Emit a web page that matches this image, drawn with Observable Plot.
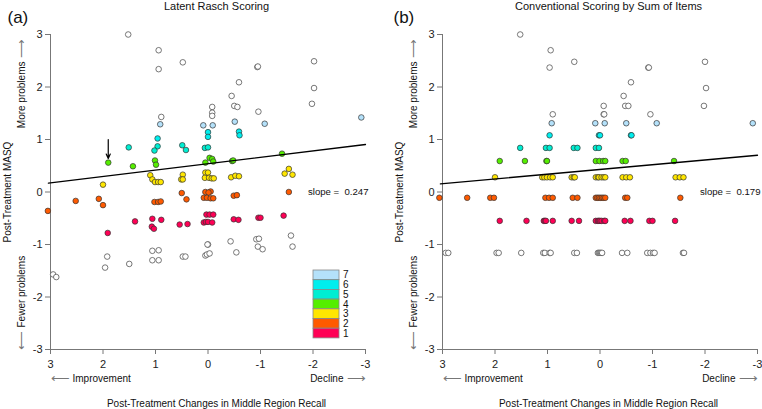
<!DOCTYPE html>
<html><head><meta charset="utf-8">
<script src="https://cdn.jsdelivr.net/npm/d3@7"></script>
<script src="https://cdn.jsdelivr.net/npm/@observablehq/plot@0.6"></script>
<style>
body{margin:0;background:#fff;}
#wrap{position:relative;width:762px;height:409px;overflow:hidden;font-family:"Liberation Sans",Arial,sans-serif;}
#wrap > svg{position:absolute;top:0;}
</style></head><body><div id="wrap"></div>
<script>
// ---- ticks & labels ----
const xTicks = [3, 2, 1, 0, -1, -2, -3];
const yTicks = [-3, -2, -1, 0, 1, 2, 3];
const titles = ["Latent Rasch Scoring", "Conventional Scoring by Sum of Items"];
const tags = ["(a)", "(b)"];
const slopes = ["slope =  0.247", "slope =  0.179"];
const xTitle = "Post-Treatment Changes in Middle Region Recall";
const yTitle = "Post-Treatment MASQ";
const levels = [1, 2, 3, 4, 5, 6, 7];
const levelColors = ["#FF0055", "#FF5A00", "#FFE600", "#55EE00", "#00EED2", "#00EEEE", "#B4E1FA"];

// ---- panel (a): Latent Rasch scoring, [change in recall, post MASQ] ----
const raschOpen = [[1.52,3.0],[0.94,2.70],[0.94,2.34],[0.48,2.47],[-0.94,2.38],[-0.95,2.39],[-0.59,2.09],[-0.45,1.83],[-0.50,1.64],[-0.56,1.62],[-0.96,1.53],[-0.08,1.62],[-0.08,1.51],[-0.08,1.45],[0.89,1.43],[-2.02,2.49],[-2.02,1.98],[-1.98,1.68],
  [1.92,-1.23],[1.96,-1.44],[1.50,-1.37],[2.95,-1.57],[2.89,-1.62],[1.06,-1.12],[0.94,-1.11],[1.06,-1.30],[0.94,-1.30],[0.48,-1.23],[0.43,-1.23],[0.0,-1.0],[0.01,-1.0],[0.05,-1.21],[0.02,-1.19],[-0.03,-1.17],[-0.43,-0.94],[-0.54,-1.15],[-0.92,-0.90],[-0.97,-0.89],[-0.95,-1.04],[-1.04,-1.09],[-1.58,-0.83],[-1.61,-1.04]];
const rasch7 = [[0.91,1.29],[0.09,1.27],[-0.09,1.27],[-0.51,1.34],[-1.08,1.30],[-2.92,1.42]];
const rasch6 = [[0.0,1.14],[0.0,1.05],[-0.59,1.15],[-0.60,1.08],[0.96,1.02]];
const rasch5 = [[1.51,0.85],[0.96,0.87],[1.02,0.79],[0.49,0.89],[0.42,0.80],[0.06,0.84],[0.0,0.85]];
const rasch4 = [[1.90,0.56],[1.43,0.49],[1.01,0.60],[0.99,0.52],[-0.03,0.65],[-0.08,0.63],[0.05,0.56],[-0.10,0.58],[-0.46,0.59],[-0.48,0.60],[-1.41,0.73]];
const rasch3 = [[2.0,0.14],[1.10,0.32],[1.06,0.24],[1.01,0.19],[0.95,0.19],[0.90,0.19],[0.48,0.33],[0.51,0.24],[0.48,0.24],[0.05,0.37],[0.0,0.37],[0.06,0.27],[-0.02,0.27],[-0.07,0.26],[-0.11,0.26],[-0.44,0.28],[-0.52,0.31],[-0.59,0.30],[-1.46,0.35],[-1.54,0.44],[-1.61,0.33]];
const rasch2 = [[3.05,-0.36],[2.52,-0.17],[2.08,-0.13],[2.0,-0.25],[0.50,-0.02],[0.41,-0.14],[1.02,-0.19],[0.95,-0.19],[0.90,-0.18],[0.05,0.0],[-0.05,0.01],[-0.01,-0.01],[0.08,-0.11],[0.02,-0.11],[-0.05,-0.12],[-0.10,-0.12],[-0.49,-0.07],[-0.55,-0.06],[-1.54,0.0]];
const rasch1 = [[1.39,-0.56],[1.91,-0.78],[1.06,-0.51],[0.89,-0.53],[1.07,-0.66],[1.03,-0.70],[0.54,-0.62],[0.39,-0.61],[0.03,-0.43],[-0.03,-0.43],[-0.10,-0.43],[0.08,-0.58],[0.04,-0.57],[0.0,-0.57],[-0.08,-0.58],[-0.49,-0.52],[-0.58,-0.53],[-0.96,-0.49],[-1.0,-0.49],[-1.44,-0.45]];
const raschFitX = [3.04, -3.0];
const raschFitY = [0.17, 0.905];

// ---- panel (b): conventional sum scoring ----
const sumOpen = [[1.52,3.0],[0.94,2.70],[0.96,2.37],[0.49,2.48],[-0.92,2.37],[-0.93,2.37],[-0.59,2.09],[-0.45,1.83],[-0.48,1.64],[-0.54,1.64],[-0.96,1.48],[-0.07,1.64],[-0.07,1.48],[-0.08,1.48],[0.90,1.48],[-2.0,2.48],[-2.02,1.98],[-1.98,1.64],
  [2.94,-1.16],[2.89,-1.16],[1.97,-1.16],[1.93,-1.16],[1.50,-1.16],[1.08,-1.16],[1.05,-1.16],[0.96,-1.16],[0.94,-1.16],[0.49,-1.16],[0.44,-1.16],[0.04,-1.16],[0.02,-1.16],[0.0,-1.16],[-0.02,-1.16],[-0.04,-1.16],[-0.42,-1.16],[-0.52,-1.16],[-0.90,-1.16],[-0.96,-1.16],[-1.01,-1.16],[-1.04,-1.16],[-1.58,-1.16],[-1.60,-1.16]];
const sum7 = [[0.92,1.31],[0.09,1.31],[-0.09,1.31],[-0.50,1.31],[-1.08,1.31],[-2.91,1.31]];
const sum6 = [[0.96,1.08],[0.02,1.08],[0.0,1.08],[-0.59,1.08],[-0.60,1.08]];
const sum5 = [[1.52,0.84],[1.03,0.84],[0.96,0.84],[0.50,0.84],[0.43,0.84],[0.08,0.84],[0.02,0.84]];
const sum4 = [[1.91,0.59],[1.43,0.59],[1.02,0.59],[1.01,0.59],[0.08,0.59],[0.01,0.59],[-0.06,0.59],[-0.10,0.59],[-0.43,0.59],[-0.49,0.59],[-1.41,0.59]];
const sum3 = [[2.0,0.28],[1.10,0.28],[1.06,0.28],[1.01,0.28],[0.95,0.28],[0.90,0.28],[0.54,0.28],[0.50,0.28],[0.48,0.28],[0.08,0.28],[0.04,0.28],[0.02,0.28],[-0.03,0.28],[-0.07,0.28],[-0.10,0.28],[-0.43,0.28],[-0.50,0.28],[-0.57,0.28],[-1.44,0.28],[-1.52,0.28],[-1.59,0.28]];
const sum2 = [[3.06,-0.11],[2.53,-0.11],[2.09,-0.11],[2.02,-0.11],[1.04,-0.11],[0.97,-0.11],[0.90,-0.11],[0.52,-0.11],[0.43,-0.11],[0.08,-0.11],[0.05,-0.11],[0.02,-0.11],[-0.01,-0.11],[-0.04,-0.11],[-0.07,-0.11],[-0.10,-0.11],[-0.48,-0.11],[-0.52,-0.11],[-1.53,-0.11]];
const sum1 = [[1.91,-0.55],[1.40,-0.55],[1.07,-0.55],[1.05,-0.55],[1.03,-0.55],[0.90,-0.55],[0.54,-0.55],[0.40,-0.55],[0.08,-0.55],[0.04,-0.55],[0.02,-0.55],[0.0,-0.55],[-0.03,-0.55],[-0.08,-0.55],[-0.10,-0.55],[-0.47,-0.55],[-0.58,-0.55],[-0.94,-0.55],[-1.0,-0.55],[-1.43,-0.55]];
const sumFitX = [3.04, -3.0];
const sumFitY = [0.155, 0.70];

// ---- annotation arrow in panel (a) ----
const noteArrowX = [1.90];
const noteArrowY1 = [1.00];
const noteArrowY2 = [0.64];

const FONT = '"Liberation Sans", Arial, Helvetica, sans-serif';

function label(txt, o) {
  return Plot.text([txt], Object.assign({text: d => d, fill: "#111", lineAnchor: "middle", textAnchor: "middle"}, o));
}

function panel(i, groups, fitX, fitY, opts) {
  const pts = [];
  groups.forEach((g, lvl) => g.forEach(([x, y]) => pts.push({x, y, lvl})));
  const open = pts.filter(d => d.lvl === 0);
  const filled = pts.filter(d => d.lvl > 0);
  const fit = fitX.map((x, k) => ({x, y: fitY[k]}));
  const marks = [
    Plot.frame({anchor: "left", stroke: "#777"}),
    Plot.frame({anchor: "bottom", stroke: "#777"}),
    Plot.axisY({ticks: yTicks, tickSize: 5, tickPadding: 3, tickFormat: d => String(d), stroke: "#777", fill: "#222", label: null, fontSize: 11}),
    Plot.axisX({ticks: xTicks, tickSize: 5, tickPadding: 6, tickFormat: d => String(d), stroke: "#777", fill: "#222", label: null, fontSize: 11}),
    Plot.dot(open, {x: "x", y: "y", r: 2.8, fill: "white", stroke: "#555", strokeWidth: 0.8}),
    Plot.dot(filled, {x: "x", y: "y", r: 2.8, fill: "lvl", stroke: "#333", strokeWidth: 0.7}),
    Plot.line(fit, {x: "x", y: "y", stroke: "black", strokeWidth: 1.3}),
    label(tags[i], {frameAnchor: "top-left", dx: opts.tagDx, dy: -17, textAnchor: "start", fontSize: 17}),
    label(titles[i], {frameAnchor: "top", dx: 8.5, dy: -28, fontSize: 11}),
    label(xTitle, {frameAnchor: "bottom", dx: 8.5, dy: 54, fontSize: 10}),
    label(yTitle, {frameAnchor: "left", dx: -43, rotate: -90, fontSize: 10}),
    label("Improvement", {frameAnchor: "bottom-left", dx: 22, dy: 29, textAnchor: "start", fontSize: 10}),
    label("\u27F5", {frameAnchor: "bottom-left", dx: 0, dy: 29, textAnchor: "start", fontSize: 13, fill: "#777"}),
    label("Decline", {frameAnchor: "bottom-right", dx: -22, dy: 29, textAnchor: "end", fontSize: 10}),
    label("\u27F6", {frameAnchor: "bottom-right", dx: 0, dy: 29, textAnchor: "end", fontSize: 13, fill: "#777"}),
    label("More problems", {frameAnchor: "top-left", dx: -29, dy: 27, rotate: -90, textAnchor: "end", fontSize: 10}),
    label("\u27F6", {frameAnchor: "top-left", dx: -29, dy: 4, rotate: -90, textAnchor: "end", fontSize: 13, fill: "#777"}),
    label("Fewer problems", {frameAnchor: "bottom-left", dx: -29, dy: -22, rotate: -90, textAnchor: "start", fontSize: 10}),
    label("\u27F5", {frameAnchor: "bottom-left", dx: -29, dy: 0, rotate: -90, textAnchor: "start", fontSize: 13, fill: "#777"}),
    label(slopes[i], {frameAnchor: "right", dx: 3, textAnchor: "end", fontSize: 9.6})
  ];
  if (opts.note) {
    const note = noteArrowX.map((x, k) => ({x, y1: noteArrowY1[k], y2: noteArrowY2[k]}));
    marks.push(Plot.arrow(note, {x1: "x", x2: "x", y1: "y1", y2: "y2", stroke: "black", strokeWidth: 1.2, headLength: 6, headAngle: 50}));
  }
  const svg = Plot.plot({
    width: opts.width, height: 409,
    marginLeft: 50, marginRight: opts.marginRight, marginTop: 34, marginBottom: 60,
    x: {domain: [3, -3]},
    y: {domain: [-3, 3]},
    color: {type: "ordinal", domain: levels, range: levelColors},
    style: {fontFamily: FONT, fontSize: "11px", color: "#222", background: "white", overflow: "visible"},
    marks
  });
  svg.style.left = opts.left + "px";
  return svg;
}

const wrap = document.getElementById("wrap");
wrap.appendChild(panel(0, [raschOpen, rasch1, rasch2, rasch3, rasch4, rasch5, rasch6, rasch7], raschFitX, raschFitY, {width: 392, marginRight: 27, left: 0, tagDx: -43, note: true}));
wrap.appendChild(panel(1, [sumOpen, sum1, sum2, sum3, sum4, sum5, sum6, sum7], sumFitX, sumFitY, {width: 370, marginRight: 5, left: 392, tagDx: -49, note: false}));

// legend (levels 7 at top .. 1 at bottom) inside panel (a)
const boxH = 9.7;
const leg = d3.create("svg").attr("width", 50).attr("height", 72)
  .style("position", "absolute").style("left", "312px").style("top", "269px");
const rev = levels.slice().reverse();
leg.selectAll("rect").data(rev).join("rect")
  .attr("x", 1).attr("y", (d, k) => 1 + k * boxH).attr("width", 26).attr("height", boxH)
  .attr("fill", d => levelColors[d - 1]).attr("stroke", "#888").attr("stroke-width", 0.8);
leg.selectAll("text").data(rev).join("text")
  .attr("x", 31).attr("y", (d, k) => 1 + k * boxH + boxH / 2).attr("dy", "0.36em")
  .attr("font-family", FONT).attr("font-size", 10).attr("fill", "#111").text(d => String(d));
wrap.appendChild(leg.node());
</script></body></html>
